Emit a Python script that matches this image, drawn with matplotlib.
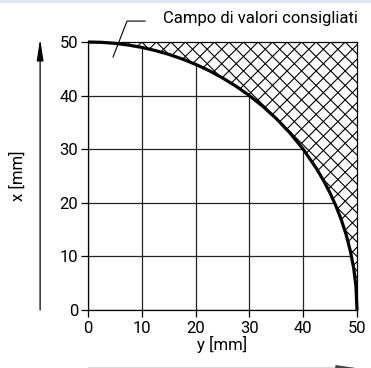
import matplotlib
matplotlib.use("Agg")
import matplotlib.pyplot as plt
from matplotlib.patches import Rectangle, Polygon
import numpy as np

# Data (recommended-range boundary curve)
y_vals = [0, 2.5, 5, 7.5, 10, 12.5, 15, 17.5, 20, 22.5, 25, 27.5, 30, 32.5,
          35, 37.5, 40, 42.5, 44, 45, 46, 47, 48, 48.8, 49.4, 49.8, 50]
x_vals = [50, 49.94, 49.75, 49.43, 48.99, 48.41, 47.7, 46.84, 45.83, 44.66,
          43.3, 41.76, 40.0, 37.99, 35.71, 33.07, 30.0, 26.34, 23.75, 21.79,
          19.6, 17.06, 14.0, 10.84, 7.72, 4.47, 0]
ticks = [0, 10, 20, 30, 40, 50]
annotation_text = "Campo di valori consigliati"
xlabel_text = "y [mm]"
ylabel_text = "x [mm]"

plt.rcParams['font.family'] = ['Roboto', 'DejaVu Sans']

fig = plt.figure(figsize=(3.71, 3.68), dpi=100)
fig.patches.append(Rectangle((0, 0.993), 1, 0.007, transform=fig.transFigure,
                             facecolor='#dbe9f5', edgecolor='none'))
ax = fig.add_axes([88/371, 1-310/368, 269/371, 268/368])

ax.set_xlim(0, 50)
ax.set_ylim(0, 50)

# hatched region between curve and top-right corner
poly_pts = list(zip(y_vals, x_vals)) + [(50, 50)]
region = Polygon(poly_pts, closed=True, facecolor='white', edgecolor='none',
                 zorder=2)
ax.add_patch(region)
step = 2.7
for k in range(-25, 45):
    c = -0.5 + step * k
    l1, = ax.plot([-5, 55], [-5 + c, 55 + c], color='black', lw=0.8, zorder=3)
    l1.set_clip_path(region)
    c2 = 100.5 - step * k
    l2, = ax.plot([-5, 55], [5 + c2, -55 + c2], color='black', lw=0.8, zorder=3)
    l2.set_clip_path(region)

ax.plot(y_vals, x_vals, color='black', lw=2.3, solid_capstyle='butt', zorder=5,
        clip_on=False)

ax.set_xticks(ticks)
ax.set_yticks(ticks)
ax.grid(True, color='#222222', lw=0.9, zorder=1)
for s in ax.spines.values():
    s.set_linewidth(0.9)
    s.set_zorder(4)
ax.tick_params(direction='out', length=5, width=0.9, labelsize=12, pad=2)
ax.tick_params(axis='x', pad=3)

ax.set_xlabel(xlabel_text, fontsize=12, labelpad=0)
ax.set_ylabel(ylabel_text, fontsize=12, labelpad=24)

# left axis arrow
ax.annotate('', xy=(-8.9, 50.6), xytext=(-8.9, 0), xycoords='data',
            arrowprops=dict(arrowstyle='-|>,head_length=1.3,head_width=0.2',
                            color='black', lw=0.9, shrinkA=0, shrinkB=0),
            annotation_clip=False)
# bottom axis arrow (cut off by the image border)
ax.annotate('', xy=(50.2, -10.9), xytext=(0, -10.9), xycoords='data',
            arrowprops=dict(arrowstyle='-|>,head_length=1.3,head_width=0.2',
                            color='#444444', lw=0.9, shrinkA=0, shrinkB=0),
            annotation_clip=False)

# leader line and annotation
ax.plot([4.65, 7.25, 10.6], [47.2, 53.9, 53.9], color='black', lw=0.8, clip_on=False)
ax.text(13.9, 54.4, annotation_text, fontsize=12, ha='left', va='center')

fig.savefig('out.png', dpi=100)
